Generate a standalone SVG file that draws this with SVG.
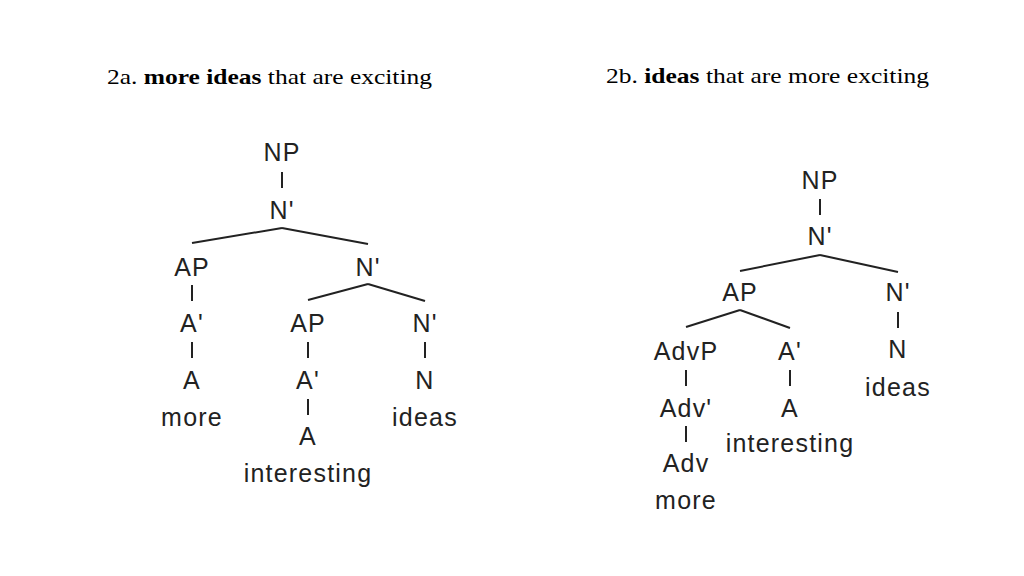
<svg xmlns="http://www.w3.org/2000/svg" width="1024" height="576" viewBox="0 0 1024 576">
<style>
.t{font-family:"Liberation Sans",Arial,sans-serif;font-size:25px;letter-spacing:1.2px;fill:#222;text-anchor:middle}
.h{font-family:"Liberation Serif","Times New Roman",serif;font-size:22px;fill:#000}
line{stroke:#222;stroke-width:2}
</style>
<rect width="1024" height="576" fill="#fff"/>
<text class="h" x="107" y="84" textLength="325" lengthAdjust="spacingAndGlyphs">2a. <tspan font-weight="bold">more ideas</tspan> that are exciting</text>
<text class="h" x="606" y="83" textLength="323" lengthAdjust="spacingAndGlyphs">2b. <tspan font-weight="bold">ideas</tspan> that are more exciting</text>
<g id="connectors">
<line x1="282" y1="172" x2="282" y2="188"/>
<line x1="192" y1="243" x2="282" y2="228"/>
<line x1="282" y1="228" x2="368" y2="244"/>
<line x1="192" y1="285" x2="192" y2="301"/>
<line x1="192" y1="342" x2="192" y2="358"/>
<line x1="368" y1="284" x2="308" y2="300"/>
<line x1="368" y1="284" x2="425" y2="301"/>
<line x1="308" y1="342" x2="308" y2="358"/>
<line x1="308" y1="399" x2="308" y2="415"/>
<line x1="425" y1="342" x2="425" y2="358"/>
<line x1="820" y1="199" x2="820" y2="215"/>
<line x1="740" y1="271" x2="820" y2="255"/>
<line x1="820" y1="255" x2="898" y2="272"/>
<line x1="898" y1="312" x2="898" y2="328"/>
<line x1="740" y1="310" x2="686" y2="327"/>
<line x1="740" y1="310" x2="790" y2="328"/>
<line x1="686" y1="370" x2="686" y2="386"/>
<line x1="686" y1="426" x2="686" y2="442"/>
<line x1="790" y1="370" x2="790" y2="386"/>
</g>
<g id="a-NP"><text class="t" x="282" y="161">NP</text></g>
<g id="a-N1"><text class="t" x="282" y="219">N'</text></g>
<g id="a-AP"><text class="t" x="192" y="276">AP</text></g>
<g id="a-A1"><text class="t" x="192" y="332">A'</text></g>
<g id="a-A"><text class="t" x="192" y="389">A</text></g>
<g id="a-more"><text class="t" x="192" y="426">more</text></g>
<g id="a-N2"><text class="t" x="368" y="276">N'</text></g>
<g id="a-AP2"><text class="t" x="308" y="332">AP</text></g>
<g id="a-A12"><text class="t" x="308" y="389">A'</text></g>
<g id="a-A2"><text class="t" x="308" y="445">A</text></g>
<g id="a-interesting"><text class="t" x="308" y="482">interesting</text></g>
<g id="a-N3"><text class="t" x="425" y="332">N'</text></g>
<g id="a-N"><text class="t" x="425" y="389">N</text></g>
<g id="a-ideas"><text class="t" x="425" y="426">ideas</text></g>
<g id="b-NP"><text class="t" x="820" y="189">NP</text></g>
<g id="b-N1"><text class="t" x="820" y="245">N'</text></g>
<g id="b-AP"><text class="t" x="740" y="301">AP</text></g>
<g id="b-N2"><text class="t" x="898" y="301">N'</text></g>
<g id="b-N"><text class="t" x="898" y="358">N</text></g>
<g id="b-ideas"><text class="t" x="898" y="396">ideas</text></g>
<g id="b-AdvP"><text class="t" x="686" y="360">AdvP</text></g>
<g id="b-Adv1"><text class="t" x="686" y="417">Adv'</text></g>
<g id="b-Adv"><text class="t" x="686" y="472">Adv</text></g>
<g id="b-more"><text class="t" x="686" y="509">more</text></g>
<g id="b-A1"><text class="t" x="790" y="360">A'</text></g>
<g id="b-A"><text class="t" x="790" y="417">A</text></g>
<g id="b-interesting"><text class="t" x="790" y="452">interesting</text></g>
</svg>
